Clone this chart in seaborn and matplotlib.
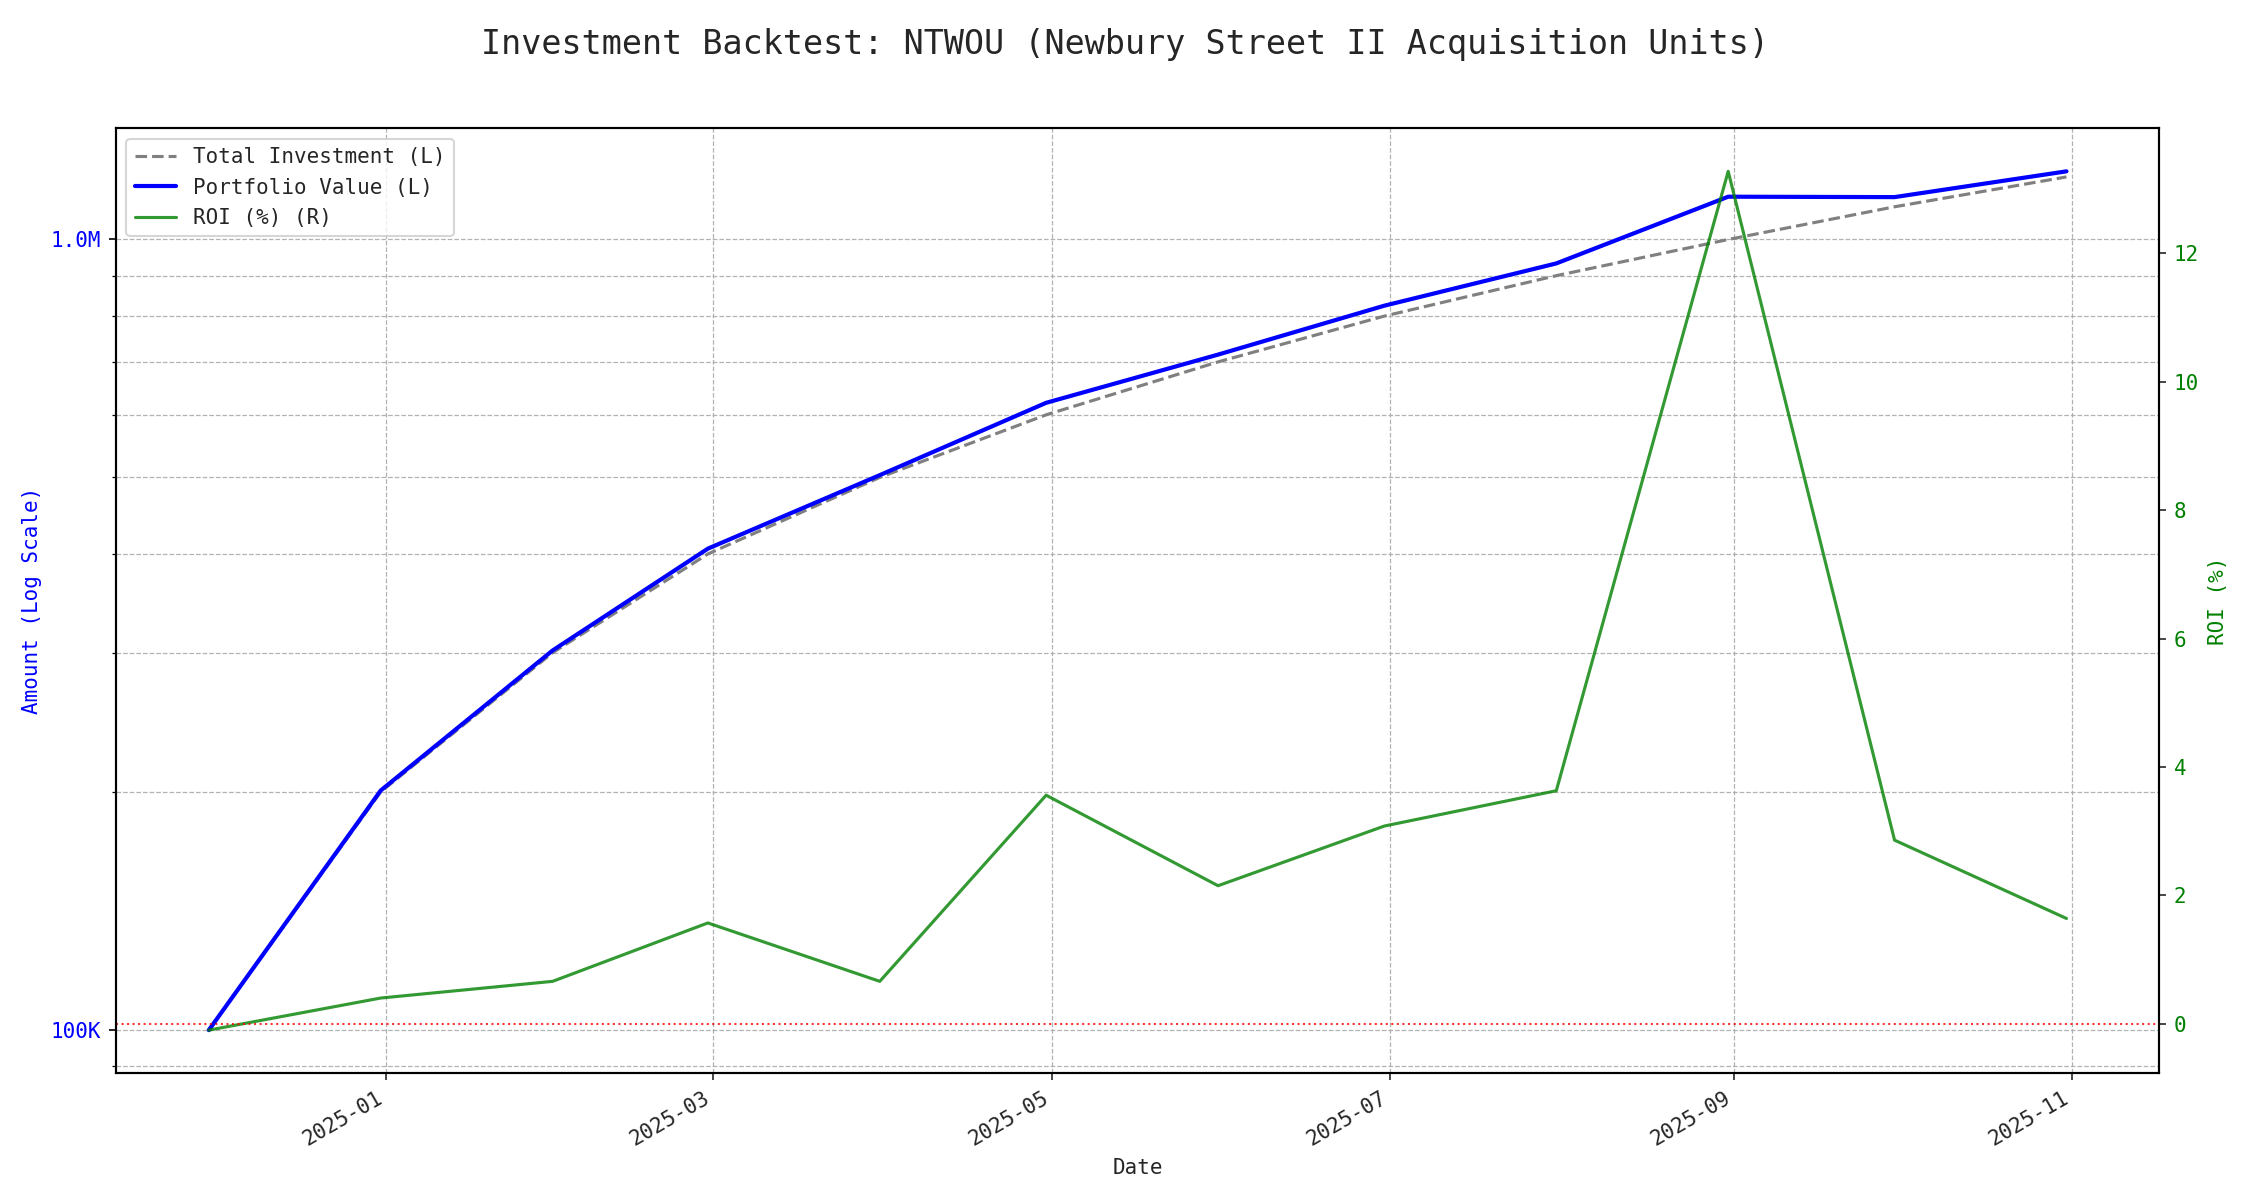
import matplotlib
matplotlib.use("Agg")
import matplotlib.pyplot as plt
import matplotlib.ticker as mticker
import seaborn as sns
import pandas as pd
import numpy as np

dates = ["2024-11-30", "2024-12-31", "2025-01-31", "2025-02-28", "2025-03-31", "2025-04-30",
         "2025-05-31", "2025-06-30", "2025-07-31", "2025-08-31", "2025-09-30", "2025-10-31"]
total_investment = [100000, 200000, 300000, 400000, 500000, 600000,
                    700000, 800000, 900000, 1000000, 1100000, 1200000]
roi_pct = [-0.10, 0.40, 0.66, 1.57, 0.66, 3.56, 2.15, 3.08, 3.63, 13.28, 2.86, 1.64]
portfolio_value = [inv * (1 + r / 100) for inv, r in zip(total_investment, roi_pct)]

df = pd.DataFrame({
    "Date": pd.to_datetime(dates),
    "Total": total_investment,
    "Portfolio": portfolio_value,
    "ROI": roi_pct,
})

sns.set_style("white")
plt.rcParams["font.family"] = ["DejaVu Sans Mono", "DejaVu Sans"]

fig, ax1 = plt.subplots(figsize=(15, 8), dpi=150)
sns.lineplot(data=df, x="Date", y="Total", ax=ax1, color="gray", linestyle="--",
             linewidth=1.5, label="Total Investment (L)")
sns.lineplot(data=df, x="Date", y="Portfolio", ax=ax1, color="blue",
             linewidth=2, label="Portfolio Value (L)")
ax1.set_yscale("log")

def fmt(v, pos):
    if v >= 1e6:
        return f"{v/1e6:.1f}M"
    return f"{v/1e3:.0f}K"

ax1.yaxis.set_major_formatter(mticker.FuncFormatter(fmt))
ax1.yaxis.set_minor_formatter(mticker.NullFormatter())
ax1.tick_params(axis="y", which="both", colors="black", labelcolor="blue", labelsize=10, left=True)
ax1.tick_params(axis="x", labelsize=10, bottom=True)
ax1.set_ylabel("Amount (Log Scale)", color="blue", fontsize=10)
ax1.set_xlabel("Date", fontsize=10)
ax1.grid(True, which="both", linestyle="--", linewidth=0.6, color="#aaaaaa", alpha=0.9)

ax2 = ax1.twinx()
sns.lineplot(data=df, x="Date", y="ROI", ax=ax2, color="green", alpha=0.8,
             linewidth=1.5, label="ROI (%) (R)")
ax2.axhline(0, color="red", linestyle=":", linewidth=1, alpha=0.8)
ax2.set_ylabel("ROI (%)", color="green", fontsize=10)
ax2.tick_params(axis="y", labelcolor="green", labelsize=10, right=True)
ax2.grid(False)

h1, l1 = ax1.get_legend_handles_labels()
h2, l2 = ax2.get_legend_handles_labels()
if ax1.get_legend():
    ax1.get_legend().remove()
ax2.legend(h1 + h2, l1 + l2, loc="upper left", fontsize=10)

for ax in (ax1, ax2):
    for s in ax.spines.values():
        s.set_color("black")
        s.set_linewidth(1.0)

fig.suptitle("Investment Backtest: NTWOU (Newbury Street II Acquisition Units)", fontsize=16, y=0.977)
fig.autofmt_xdate()
fig.tight_layout()
fig.subplots_adjust(top=0.893)
fig.savefig("out.png", dpi=150)
